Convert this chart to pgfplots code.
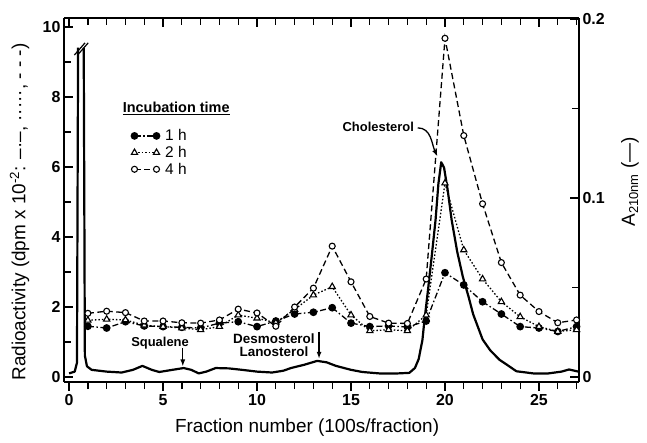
\documentclass[border=0pt]{standalone}
\usepackage{fontspec}
\setmainfont{Liberation Sans}
\usepackage{pgfplots}
\usepackage{pgfplotstable}
\pgfplotsset{compat=1.18}
\usetikzlibrary{arrows.meta}

\pgfplotstableread{
x y
1 1.45
2 1.40
3 1.58
4 1.46
5 1.44
6 1.42
7 1.40
8 1.54
9 1.58
10 1.44
11 1.60
12 1.80
13 1.85
14 1.98
15 1.54
16 1.44
17 1.46
18 1.43
19 1.60
20 2.98
21 2.63
22 2.15
23 1.80
24 1.44
25 1.40
26 1.30
27 1.44
}\onehour

\pgfplotstableread{
x y
1 1.62
2 1.65
3 1.63
4 1.48
5 1.44
6 1.40
7 1.35
8 1.44
9 1.77
10 1.68
11 1.55
12 1.93
13 2.34
14 2.58
15 1.77
16 1.32
17 1.35
18 1.32
19 1.77
20 5.54
21 3.63
22 2.80
23 2.15
24 1.72
25 1.44
26 1.30
27 1.35
}\twohour

\pgfplotstableread{
x y
1 1.82
2 1.88
3 1.84
4 1.60
5 1.60
6 1.55
7 1.54
8 1.63
9 1.94
10 1.83
11 1.45
12 2.00
13 2.54
14 3.74
15 2.72
16 1.73
17 1.54
18 1.53
19 2.80
20 9.68
21 6.90
22 4.95
23 3.27
24 2.34
25 1.87
26 1.55
27 1.63
}\fourhour

\pgfplotstableread{
x y
0.00 0.0020
0.30 0.0030
0.42 0.0080
0.48 0.1840
nan nan
0.78 0.1840
0.84 0.0120
0.95 0.0060
1.20 0.0040
2.00 0.0030
2.80 0.0025
3.40 0.0040
3.90 0.0062
4.40 0.0040
4.80 0.0028
5.50 0.0040
6.10 0.0050
6.50 0.0040
6.90 0.0020
7.30 0.0030
7.80 0.0050
8.50 0.0048
9.20 0.0040
10.00 0.0030
10.80 0.0025
11.40 0.0035
11.80 0.0050
12.50 0.0068
13.20 0.0090
13.70 0.0082
14.20 0.0062
15.00 0.0040
15.60 0.0028
16.50 0.0020
17.50 0.0020
18.10 0.0023
18.40 0.0050
18.60 0.0100
18.80 0.0207
18.90 0.0310
19.10 0.0490
19.30 0.0680
19.50 0.0880
19.65 0.1080
19.80 0.1200
19.95 0.1170
20.15 0.1040
20.35 0.0880
20.65 0.0700
20.95 0.0560
21.25 0.0450
21.50 0.0350
22.00 0.0210
22.40 0.0150
22.90 0.0096
23.30 0.0068
23.80 0.0032
24.70 0.0020
25.50 0.0020
26.20 0.0030
26.60 0.0042
27.10 0.0030
}\absorb

\pgfplotsset{
  base/.style={
    scale only axis, width=515bp, height=364bp,
    at={(0,0)}, anchor=south west,
    xmin=-0.27, xmax=27.13,
    axis line style={line width=1.6bp},
    major tick length=9bp, minor tick length=7bp,
    every tick/.style={line width=1.3bp, black},
    every minor tick/.style={line width=1.3bp, black},
    tick label style={font=\fontsize{16}{16}\selectfont\bfseries},
    label style={font=\fontsize{19}{21}\selectfont},
    /pgf/number format/assume math mode=true,
  }
}

\begin{document}
\begin{tikzpicture}
\useasboundingbox (-64bp,-61bp) rectangle (583bp,382bp);

% bottom axis: outward ticks
\begin{axis}[base,
  ymin=-0.143, ymax=10.26,
  axis x line*=bottom, axis y line=none,
  tick align=outside,
  xtick={0,5,10,15,20,25}, xticklabels={0,5,10,15,20,25},
  minor xtick={1,2,3,4,6,7,8,9,11,12,13,14,16,17,18,19,21,22,23,24,26,27},
  xlabel={Fraction number (100s/fraction)},
  xlabel style={at={(axis description cs:0.472,-0.126)}, anchor=center},
]
\addplot[draw=none] coordinates {(0,0)};
\end{axis}

% right axis: absorbance
\begin{axis}[base,
  ymin=-0.0028, ymax=0.2006,
  axis y line*=right, axis x line=none,
  tick align=inside,
  ytick={0,0.1,0.2}, yticklabels={0,0.1,0.2},
  minor ytick={0.05,0.15},
  ylabel={A\textsubscript{\fontsize{13}{13}\selectfont 210nm} (---)},
  ylabel style={at={(axis description cs:1.099,0.55)}, anchor=center},
  unbounded coords=jump,
]
\addplot[line width=2.2bp, black, line join=round] table[x=x,y=y] {\absorb};
\end{axis}

% left axis + top ticks + radioactivity data
\begin{axis}[base,
  ymin=-0.143, ymax=10.26,
  axis x line*=top, axis y line*=left,
  tick align=inside,
  xtick={0,5,10,15,20,25}, xticklabels={},
  minor xtick={1,2,3,4,6,7,8,9,11,12,13,14,16,17,18,19,21,22,23,24,26,27},
  ytick={0,2,4,6,8,10}, yticklabels={0,2,4,6,8,10},
  minor ytick={1,3,5,7,9},
  ylabel={Radioactivity (dpm x 10\textsuperscript{-2}: –·–, ·····, - - -)},
  ylabel style={at={(axis description cs:-0.086,0.467)}, anchor=center},
  clip=false,
  legend style={draw=none, fill=none, at={(axis cs:3.3,7.12)}, anchor=north west,
    inner sep=0pt, row sep=1bp,
    font=\fontsize{15.5}{16}\selectfont,
    nodes={inner sep=1.5bp},
    /tikz/every odd column/.append style={column sep=4bp}},
  legend cell align=left,
  legend image code/.code={\draw[mark repeat=2,mark phase=1,#1] plot coordinates {(0bp,0bp) (11bp,0bp) (22bp,0bp)};},
]
\addplot[black, line width=1.3bp, dash pattern=on 6bp off 2.5bp on 1.5bp off 2.5bp,
  mark=*, mark size=3.2bp, mark options={solid, fill=black}] table[x=x,y=y] {\onehour};
\addlegendentry{1 h}
\addplot[black, line width=1.3bp, dash pattern=on 1.5bp off 2bp,
  mark=triangle*, mark size=3.6bp, mark options={solid, fill=white, line width=1.1bp}] table[x=x,y=y] {\twohour};
\addlegendentry{2 h}
\addplot[black, line width=1.3bp, dash pattern=on 6bp off 3.5bp,
  mark=*, mark size=3bp, mark options={solid, fill=white, line width=1.1bp}] table[x=x,y=y] {\fourhour};
\addlegendentry{4 h}

% legend title
\node[font=\fontsize{14.5}{15}\selectfont\bfseries, anchor=center] at (axis cs:5.7,7.68) {\underline{Incubation time}};

% break mark on the solvent-front spike
\draw[line width=1.2bp] (axis cs:0.28,9.2) -- (axis cs:0.85,9.55);
\draw[line width=1.2bp] (axis cs:0.45,9.2) -- (axis cs:1.02,9.55);

% annotations
\node[font=\fontsize{13}{14}\selectfont\bfseries] at (axis cs:16.45,7.14) {Cholesterol};
\draw[line width=1.3bp, -{Latex[length=7bp,width=5bp]}] (axis cs:18.55,7.12) to[out=0,in=115] (axis cs:19.6,6.3);

\node[font=\fontsize{13}{14}\selectfont\bfseries] at (axis cs:4.84,0.97) {Squalene};
\draw[line width=1.3bp, -{Latex[length=7bp,width=5bp]}] (axis cs:6.05,0.83) -- (axis cs:6.05,0.3);

\node[font=\fontsize{13.5}{13}\selectfont\bfseries, align=center] at (axis cs:10.9,0.9) {Desmosterol\\Lanosterol};
\draw[line width=1.3bp, -{Latex[length=7bp,width=5bp]}] (axis cs:13.3,1.3) -- (axis cs:13.3,0.52);
\end{axis}
\end{tikzpicture}
\end{document}
